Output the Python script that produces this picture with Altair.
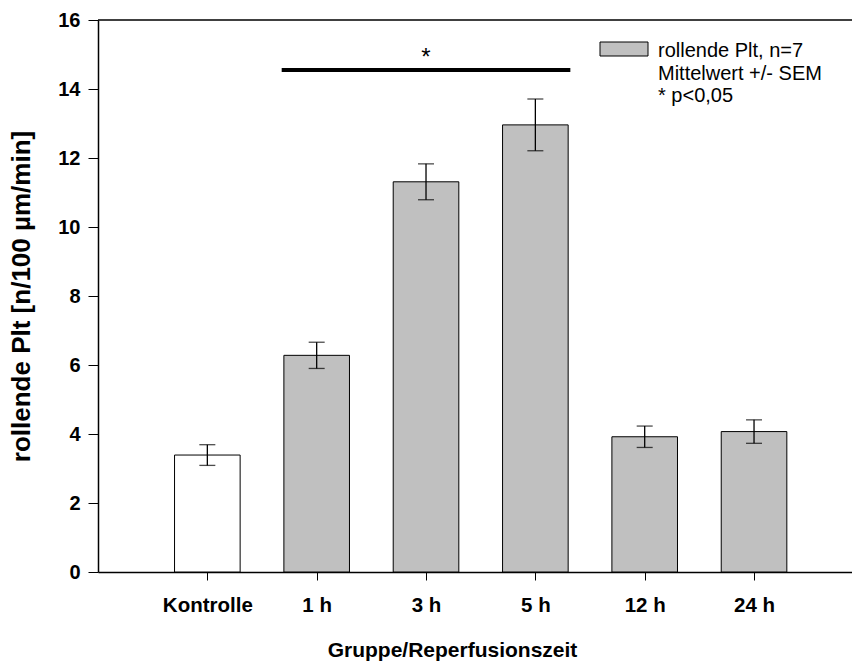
import altair as alt
import pandas as pd

# Rolling platelets per group (mean +/- SEM)
groups = ["Kontrolle", "1 h", "3 h", "5 h", "12 h", "24 h"]
means = [3.39, 6.28, 11.31, 12.96, 3.92, 4.07]
sems = [0.30, 0.38, 0.52, 0.75, 0.31, 0.34]

# significance bracket over 1 h .. 5 h
sig_span = [1.68, 4.32]
sig_level = 14.55
star_level = 14.7

legend_lines = ["rollende Plt, n=7", "Mittelwert +/- SEM", "* p<0,05"]

W, H = 754, 552
X_MAX = 6.896
FONT = "Liberation Sans"

df = pd.DataFrame({"group": groups, "pos": list(range(1, len(groups) + 1)),
                   "mean": means, "sem": sems})
df["left"] = df["pos"] - 0.3
df["right"] = df["pos"] + 0.3
df["lo"] = df["mean"] - df["sem"]
df["hi"] = df["mean"] + df["sem"]

label_expr = "[" + ",".join(f"'{g}'" for g in groups) + "][datum.value - 1]"

x_scale = alt.Scale(domain=[0, X_MAX], nice=False, zero=False)
y_scale = alt.Scale(domain=[0, 16], nice=False)

x_axis = alt.Axis(
    values=list(range(1, len(groups) + 1)), labelExpr=label_expr,
    title="Gruppe/Reperfusionszeit", grid=False,
    domainColor="black", domainWidth=1.5, tickColor="black", tickSize=8, tickWidth=1,
    labelFont=FONT, labelFontWeight="bold", labelFontSize=20.5, labelColor="black",
    labelPadding=15, labelFlush=False,
    titleFont=FONT, titleFontWeight="bold", titleFontSize=21, titleColor="black",
    titleX=354, titleY=67, titleBaseline="top", titleAlign="center",
)
y_axis = alt.Axis(
    values=list(range(0, 17, 2)), title="rollende Plt [n/100 µm/min]", grid=False,
    domainColor="black", domainWidth=1.5, tickColor="black", tickSize=10, tickWidth=1,
    labelFont=FONT, labelFontWeight="bold", labelFontSize=20, labelColor="black",
    labelPadding=8, labelFlush=False,
    titleFont=FONT, titleFontWeight="bold", titleFontSize=26, titleColor="black",
    titleAngle=270, titleX=-77, titleY=276, titleBaseline="middle", titleAlign="center",
)

base = alt.Chart(df)

bars = base.mark_rect(stroke="black", strokeWidth=1).encode(
    x=alt.X("left:Q", scale=x_scale, axis=x_axis),
    x2="right:Q",
    y=alt.Y("mean:Q", scale=y_scale, axis=y_axis),
    y2=alt.datum(0),
    fill=alt.condition(alt.datum.group == "Kontrolle", alt.value("white"), alt.value("#c0c0c0")),
)

err_line = base.mark_rule(color="black", strokeWidth=1.3).encode(
    x="pos:Q", y="lo:Q", y2="hi:Q")
cap_lo = base.mark_tick(orient="horizontal", size=16, thickness=1.3, color="black").encode(
    x="pos:Q", y="lo:Q")
cap_hi = base.mark_tick(orient="horizontal", size=16, thickness=1.3, color="black").encode(
    x="pos:Q", y="hi:Q")

sig_df = pd.DataFrame({"x": [sig_span[0]], "x2": [sig_span[1]], "y": [sig_level],
                       "cx": [sum(sig_span) / 2], "sy": [star_level], "t": ["*"]})
sig_bar = alt.Chart(sig_df).mark_rule(color="black", strokeWidth=4).encode(
    x="x:Q", x2="x2:Q", y="y:Q")
sig_star = alt.Chart(sig_df).mark_text(
    font=FONT, fontSize=24, color="black", baseline="alphabetic", align="center"
).encode(x="cx:Q", y="sy:Q", text="t:N")

# top frame line
frame = alt.Chart(sig_df).mark_rule(color="black", strokeWidth=1.5).encode(
    x=alt.value(0), x2=alt.value(W), y=alt.value(0))

# legend: swatch and three lines of text
swatch = alt.Chart(sig_df).mark_rect(fill="#c0c0c0", stroke="black", strokeWidth=1).encode(
    x=alt.value(502), x2=alt.value(550), y=alt.value(22), y2=alt.value(36))
leg_df = pd.DataFrame({"line": legend_lines, "i": list(range(len(legend_lines)))})
leg_text = alt.Chart(leg_df).transform_calculate(
    ypix="37 + 22.5 * datum.i"
).mark_text(font=FONT, fontSize=20, color="black", align="left", baseline="alphabetic").encode(
    x=alt.value(560), y=alt.Y("ypix:Q", scale=None), text="line:N")

chart = alt.layer(
    bars, err_line, cap_lo, cap_hi, sig_bar, sig_star, frame, swatch, leg_text
).properties(
    width=W, height=H,
    autosize=alt.AutoSizeParams(type="none"),
    padding={"left": 98, "top": 20, "right": 0, "bottom": 90},
    background="white",
).configure_view(stroke=None)

chart.save("out.html", embed_options={"renderer": "svg", "actions": False})
